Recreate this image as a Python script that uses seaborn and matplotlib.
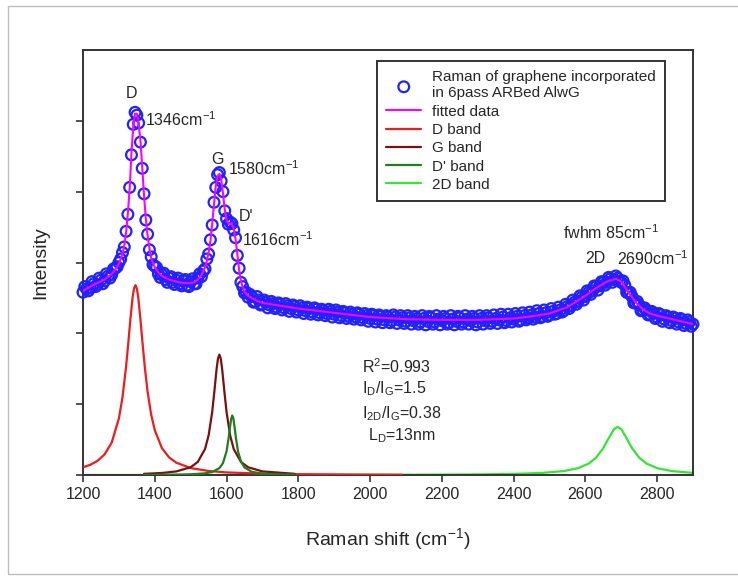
import matplotlib
matplotlib.use("Agg")
import matplotlib.pyplot as plt
from matplotlib.patches import Rectangle
import seaborn as sns
import pandas as pd

# measured spectrum (Raman shift, intensity in arbitrary units)
raman_x = [1200, 1210, 1220, 1230, 1240, 1250, 1260, 1270, 1280, 1290,
           1295, 1300, 1305, 1310, 1315, 1320, 1325, 1330, 1335, 1340, 1345,
           1350, 1355, 1360, 1365, 1370, 1375, 1380, 1385, 1390, 1395, 1400,
           1410, 1420, 1430, 1440, 1450, 1460, 1470, 1480, 1490, 1500, 1510,
           1520, 1530,
           1535, 1540, 1545, 1550, 1555, 1560, 1565, 1570, 1575, 1580, 1585,
           1590, 1595, 1600, 1605, 1610, 1615, 1620, 1625, 1630, 1635, 1640,
           1645, 1650, 1655, 1660,
           1670, 1680, 1690, 1700, 1710, 1720, 1730, 1740, 1750, 1760, 1770,
           1780, 1790, 1800, 1810, 1820, 1830, 1840, 1850, 1860, 1870, 1880,
           1890, 1900, 1910, 1920, 1930, 1940, 1950, 1960, 1970, 1980, 1990,
           2000, 2010, 2020, 2030, 2040, 2050, 2060, 2070, 2080, 2090, 2100,
           2110, 2120, 2130, 2140, 2150, 2160, 2170, 2180, 2190, 2200, 2210,
           2220, 2230, 2240, 2250, 2260, 2270, 2280, 2290, 2300, 2310, 2320,
           2330, 2340, 2350, 2360, 2370, 2380, 2390, 2400, 2410, 2420, 2430,
           2440, 2450, 2460, 2470, 2480, 2490, 2500, 2510, 2520, 2530, 2540,
           2550, 2560, 2570, 2580, 2590, 2600, 2610, 2620, 2630, 2640, 2650,
           2660, 2670, 2680, 2690, 2700, 2710, 2720, 2730, 2740, 2750, 2760,
           2770, 2780, 2790, 2800, 2810, 2820, 2830, 2840, 2850, 2860, 2870,
           2880, 2890, 2900]
raman_y = [2.58, 2.63, 2.64, 2.70, 2.69, 2.75, 2.74, 2.81, 2.83, 2.92,
           2.94, 3.00, 3.05, 3.14, 3.22, 3.44, 3.68, 4.06, 4.52, 4.95, 5.12,
           5.08, 4.97, 4.70, 4.33, 3.97, 3.60, 3.40, 3.18, 3.08, 2.97, 2.95,
           2.84, 2.83, 2.76, 2.78, 2.72, 2.75, 2.70, 2.74, 2.68, 2.73, 2.70,
           2.78, 2.80,
           2.88, 2.91, 3.05, 3.12, 3.32, 3.53, 3.85, 4.06, 4.24, 4.27, 4.15,
           4.00, 3.73, 3.62, 3.54, 3.57, 3.55, 3.46, 3.35, 3.10, 2.92, 2.72,
           2.66, 2.57, 2.58, 2.51,
           2.52, 2.45, 2.47, 2.41, 2.44, 2.40, 2.42, 2.37, 2.41, 2.36, 2.39,
           2.35, 2.38, 2.33, 2.36, 2.32, 2.35, 2.30, 2.34, 2.29, 2.32, 2.28,
           2.31, 2.27, 2.30, 2.25, 2.29, 2.24, 2.27, 2.23, 2.27, 2.22, 2.25,
           2.21, 2.25, 2.20, 2.24, 2.19, 2.23, 2.18, 2.23, 2.19, 2.22, 2.17,
           2.22, 2.18, 2.21, 2.16, 2.21, 2.17, 2.22, 2.16, 2.20, 2.18, 2.21,
           2.15, 2.20, 2.17, 2.22, 2.16, 2.20, 2.18, 2.21, 2.16, 2.21, 2.18,
           2.22, 2.17, 2.21, 2.19, 2.23, 2.18, 2.22, 2.20, 2.24, 2.19, 2.25,
           2.22, 2.26, 2.23, 2.28, 2.24, 2.29, 2.26, 2.31, 2.28, 2.33, 2.32,
           2.38, 2.39, 2.44, 2.45, 2.51, 2.52, 2.58, 2.60, 2.66, 2.67, 2.72,
           2.72, 2.77, 2.76, 2.78, 2.72, 2.68, 2.57, 2.52, 2.43, 2.40, 2.33,
           2.33, 2.27, 2.28, 2.23, 2.26, 2.20, 2.23, 2.18, 2.21, 2.16, 2.19,
           2.14, 2.16, 2.13]

# extra readings between the ones above, in the flat stretches
raman_x_mid = [1205, 1215, 1225, 1235, 1245, 1255, 1265, 1275, 1285,
               1405, 1415, 1425, 1435, 1445, 1455, 1465, 1475, 1485, 1495,
               1505, 1515, 1525,
               1665, 1675, 1685, 1695, 1705, 1715, 1725, 1735, 1745, 1755,
               1765, 1775, 1785, 1795, 1805, 1815, 1825, 1835, 1845, 1855,
               1865, 1875, 1885, 1895, 1905, 1915, 1925, 1935, 1945, 1955,
               1965, 1975, 1985, 1995, 2005, 2015, 2025, 2035, 2045, 2055,
               2065, 2075, 2085, 2095, 2105, 2115, 2125, 2135, 2145, 2155,
               2165, 2175, 2185, 2195, 2205, 2215, 2225, 2235, 2245, 2255,
               2265, 2275, 2285, 2295, 2305, 2315, 2325, 2335, 2345, 2355,
               2365, 2375, 2385, 2395, 2405, 2415, 2425, 2435, 2445, 2455,
               2465, 2475, 2485, 2495, 2505, 2515, 2525, 2535, 2545, 2555,
               2565, 2575, 2585, 2595, 2605, 2615, 2625, 2635, 2645, 2655,
               2665, 2675, 2685, 2695, 2705, 2715, 2725, 2735, 2745, 2755,
               2765, 2775, 2785, 2795, 2805, 2815, 2825, 2835, 2845, 2855,
               2865, 2875, 2885, 2895]
raman_y_mid = [2.66, 2.60, 2.73, 2.66, 2.78, 2.70, 2.84, 2.78, 2.91,
               2.93, 2.79, 2.85, 2.72, 2.80, 2.69, 2.78, 2.67, 2.76, 2.66,
               2.77, 2.70, 2.84,
               2.55, 2.44, 2.52, 2.40, 2.47, 2.36, 2.45, 2.35, 2.43, 2.33,
               2.42, 2.31, 2.40, 2.30, 2.39, 2.28, 2.37, 2.27, 2.36, 2.26,
               2.34, 2.25, 2.34, 2.23, 2.33, 2.22, 2.31, 2.21, 2.30, 2.20,
               2.29, 2.19, 2.28, 2.17, 2.27, 2.16, 2.26, 2.15, 2.25, 2.15,
               2.26, 2.14, 2.25, 2.14, 2.25, 2.13, 2.24, 2.13, 2.25, 2.12,
               2.24, 2.13, 2.25, 2.12, 2.24, 2.13, 2.25, 2.12, 2.24, 2.13,
               2.25, 2.13, 2.24, 2.12, 2.25, 2.13, 2.25, 2.14, 2.26, 2.14,
               2.27, 2.15, 2.27, 2.16, 2.28, 2.17, 2.29, 2.19, 2.30, 2.20,
               2.32, 2.22, 2.33, 2.24, 2.35, 2.27, 2.37, 2.30, 2.41, 2.35,
               2.47, 2.41, 2.53, 2.47, 2.60, 2.55, 2.67, 2.61, 2.73, 2.68,
               2.79, 2.72, 2.81, 2.74, 2.74, 2.58, 2.58, 2.43, 2.45, 2.32,
               2.36, 2.26, 2.31, 2.21, 2.28, 2.17, 2.25, 2.15, 2.23, 2.13,
               2.21, 2.11, 2.19, 2.10]

# fitted curve
fit_x = [1200, 1220, 1240, 1260, 1280, 1290, 1300, 1310, 1315, 1320, 1325,
         1330, 1335, 1340, 1345, 1350, 1355, 1360, 1365, 1370, 1375, 1380,
         1385, 1390, 1400, 1410, 1420, 1440, 1460, 1480, 1500, 1510, 1520,
         1530, 1540, 1545, 1550, 1555, 1560, 1565, 1570, 1575, 1580, 1585,
         1590, 1595, 1600, 1605, 1610, 1615, 1620, 1625, 1630, 1635, 1640,
         1645, 1650, 1660, 1680, 1700, 1750, 1800, 1850, 1900, 1950, 2000,
         2100, 2200, 2300, 2400, 2450, 2500, 2550, 2600, 2630, 2660, 2685,
         2700, 2720, 2740, 2760, 2780, 2800, 2850, 2900]
fit_y = [2.60, 2.66, 2.71, 2.76, 2.84, 2.90, 2.98, 3.12, 3.24, 3.42, 3.70,
         4.04, 4.55, 4.92, 5.10, 5.10, 4.95, 4.72, 4.35, 3.95, 3.62, 3.38,
         3.20, 3.06, 2.93, 2.86, 2.81, 2.76, 2.73, 2.71, 2.71, 2.72, 2.76,
         2.82, 2.93, 3.02, 3.14, 3.30, 3.55, 3.82, 4.08, 4.22, 4.25, 4.18,
         3.98, 3.75, 3.60, 3.55, 3.55, 3.54, 3.48, 3.33, 3.12, 2.90, 2.74,
         2.65, 2.59, 2.53, 2.47, 2.43, 2.39, 2.35, 2.32, 2.29, 2.26, 2.23,
         2.20, 2.19, 2.19, 2.21, 2.24, 2.28, 2.37, 2.53, 2.64, 2.73, 2.77,
         2.73, 2.58, 2.44, 2.34, 2.28, 2.25, 2.19, 2.13]

# fitted component bands
d_x = [1200, 1220, 1240, 1260, 1280, 1300, 1310, 1320, 1326, 1332, 1338,
       1342, 1346, 1350, 1354, 1360, 1366, 1372, 1380, 1390, 1400, 1420,
       1440, 1460, 1500, 1550, 1600, 1700, 1800, 1950, 2090]
d_y = [0.109, 0.144, 0.199, 0.291, 0.459, 0.800, 1.098, 1.531, 1.856, 2.200,
       2.502, 2.633, 2.680, 2.633, 2.502, 2.200, 1.856, 1.531, 1.173, 0.851,
       0.632, 0.378, 0.248, 0.174, 0.098, 0.057, 0.037, 0.019, 0.012, 0.007,
       0.004]

g_x = [1370, 1420, 1460, 1500, 1520, 1540, 1550, 1560, 1566, 1572, 1576,
       1580, 1584, 1588, 1594, 1600, 1610, 1620, 1640, 1660, 1700, 1790]
g_y = [0.017, 0.029, 0.051, 0.110, 0.186, 0.367, 0.559, 0.891, 1.177, 1.485,
       1.641, 1.700, 1.641, 1.485, 1.177, 0.891, 0.559, 0.367, 0.186, 0.110,
       0.051, 0.017]

dp_x = [1370, 1450, 1500, 1540, 1560, 1580, 1590, 1600, 1606, 1610, 1613,
        1616, 1619, 1622, 1626, 1632, 1640, 1650, 1670, 1700, 1750, 1790]
dp_y = [0.002, 0.005, 0.010, 0.024, 0.043, 0.097, 0.168, 0.334, 0.528, 0.692,
        0.797, 0.840, 0.797, 0.692, 0.528, 0.334, 0.191, 0.107, 0.046, 0.020,
        0.008, 0.005]

d2_x = [1200, 1600, 2000, 2090, 2200, 2300, 2400, 2480, 2540, 2580, 2610,
        2630, 2650, 2665, 2680, 2690, 2700, 2715, 2730, 2750, 2770, 2800,
        2840, 2900]
d2_y = [0.001, 0.001, 0.003, 0.004, 0.006, 0.009, 0.016, 0.030, 0.056, 0.097,
        0.163, 0.245, 0.380, 0.520, 0.648, 0.680, 0.648, 0.520, 0.380, 0.245,
        0.163, 0.097, 0.056, 0.030]

x_ticks = [1200, 1400, 1600, 1800, 2000, 2200, 2400, 2600, 2800]

sns.set_style("ticks")
plt.rcParams["font.family"] = ["Liberation Sans", "DejaVu Sans"]
FS = 11.5

fig = plt.figure(figsize=(7.38, 5.76), dpi=100)
ax = fig.add_axes([0.1125, 0.1753, 0.8265, 0.7379])

raman = pd.DataFrame({"shift": raman_x + raman_x_mid,
                      "intensity": raman_y + raman_y_mid})
sns.scatterplot(data=raman, x="shift", y="intensity", ax=ax, marker="o", s=60,
                facecolor="none", edgecolor="#2222ff", linewidth=1.6,
                zorder=3, clip_on=False,
                label="Raman of graphene incorporated\nin 6pass ARBed AlwG")
sns.lineplot(x=fit_x, y=fit_y, ax=ax, color="#ff00ff", lw=1.5, zorder=4,
             label="fitted data")
sns.lineplot(x=d_x, y=d_y, ax=ax, color="#ee1c1c", lw=1.6, zorder=3,
             label="D band")
sns.lineplot(x=g_x, y=g_y, ax=ax, color="#7a1010", lw=1.6, zorder=3,
             label="G band")
sns.lineplot(x=dp_x, y=dp_y, ax=ax, color="#1e7f1e", lw=1.6, zorder=3,
             label="D' band")
sns.lineplot(x=d2_x, y=d2_y, ax=ax, color="#33e633", lw=1.6, zorder=2,
             label="2D band")

ax.set_xlim(1200, 2900)
ax.set_ylim(0, 6)
ax.set_xticks(x_ticks)
ax.set_yticks([0, 1, 2, 3, 4, 5])
ax.set_yticklabels([])
ax.tick_params(direction="out", length=5, width=1.2, labelsize=FS,
               color="#333333")
for sp in ax.spines.values():
    sp.set_color("#333333")
    sp.set_linewidth(1.4)
ax.set_xlabel("Raman shift (cm$^{\\mathregular{-1}}$)", fontsize=14, labelpad=18)
ax.set_ylabel("Intensity", fontsize=14, labelpad=16)

# peak annotations
sup = "cm$^{\\mathregular{-1}}$"
ax.text(1336, 5.39, "D", fontsize=FS, ha="center", va="center")
ax.text(1372, 5.01, "1346" + sup, fontsize=FS, ha="left", va="center")
ax.text(1575, 4.46, "G", fontsize=FS, ha="center", va="center")
ax.text(1604, 4.33, "1580" + sup, fontsize=FS, ha="left", va="center")
ax.text(1633, 3.65, "D'", fontsize=FS, ha="left", va="center")
ax.text(1643, 3.32, "1616" + sup, fontsize=FS, ha="left", va="center")
ax.text(2539, 3.42, "fwhm 85" + sup, fontsize=FS, ha="left", va="center")
ax.text(2600, 3.06, "2D", fontsize=FS, ha="left", va="center")
ax.text(2689, 3.06, "2690" + sup, fontsize=FS, ha="left", va="center")

# fit quality / ratios
ax.text(1978, 1.53, "R$^{\\mathregular{2}}$=0.993", fontsize=FS, ha="left", va="center")
ax.text(1978, 1.22, "I$_{\\mathregular{D}}$/I$_{\\mathregular{G}}$=1.5",
        fontsize=FS, ha="left", va="center")
ax.text(1978, 0.87, "I$_{\\mathregular{2D}}$/I$_{\\mathregular{G}}$=0.38",
        fontsize=FS, ha="left", va="center")
ax.text(1994, 0.56, "L$_{\\mathregular{D}}$=13nm", fontsize=FS, ha="left", va="center")

leg = ax.legend(loc="upper left", bbox_to_anchor=(0.482, 0.974), fontsize=11,
                frameon=True, fancybox=False, framealpha=1, edgecolor="#333333",
                handlelength=2.3, labelspacing=0.28, borderpad=0.6,
                handletextpad=0.7, borderaxespad=0)
leg.get_frame().set_linewidth(1.4)

# outer border of the picture
fig.patches.append(Rectangle((8 / 738, 2 / 576), 1.0, 568 / 576,
                             transform=fig.transFigure, fill=False,
                             ec="#bdbdbd", lw=1.0))

fig.savefig("out.png", dpi=100)
